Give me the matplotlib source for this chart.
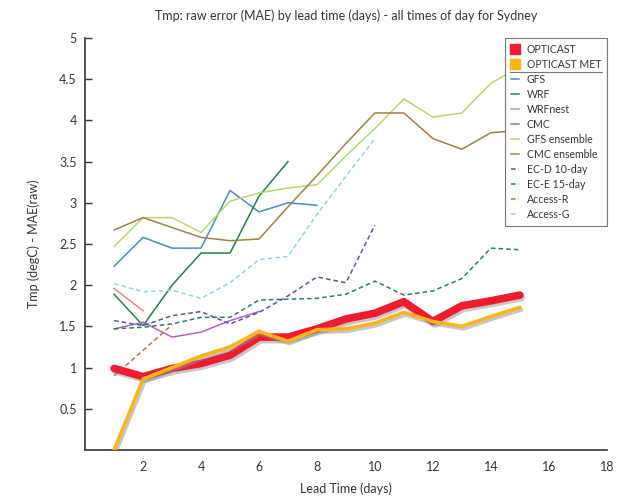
import matplotlib
matplotlib.use('Agg')
import matplotlib.pyplot as plt
import matplotlib.patheffects as pe
from matplotlib.lines import Line2D

plt.rcParams['font.family'] = ['Lato', 'DejaVu Sans']

# lead times (days) and MAE values
days = list(range(1, 16))
opticast = [0.99, 0.89, 0.99, 1.05, 1.15, 1.37, 1.37, 1.47, 1.59, 1.66, 1.80, 1.56, 1.75, 1.81, 1.88]
opticast_met = [0.0, 0.86, 1.0, 1.14, 1.25, 1.44, 1.32, 1.46, 1.47, 1.54, 1.67, 1.56, 1.50, 1.62, 1.73]
gfs = [2.23, 2.58, 2.45, 2.45, 3.15, 2.89, 3.0, 2.97]
wrf = [1.89, 1.51, 2.0, 2.39, 2.39, 3.08, 3.50]
wrfnest = [1.96, 1.69]
cmc = [1.47, 1.55, 1.37, 1.43, 1.57, 1.68]
gfs_ens = [2.47, 2.82, 2.82, 2.64, 3.02, 3.12, 3.18, 3.22, 3.57, 3.9, 4.26, 4.04, 4.09, 4.45, 4.65]
cmc_ens = [2.67, 2.82, 2.70, 2.58, 2.54, 2.56, 2.95, 3.33, 3.72, 4.09, 4.09, 3.78, 3.65, 3.85, 3.88]
ec_d = [1.57, 1.51, 1.63, 1.68, 1.53, 1.67, 1.87, 2.10, 2.03, 2.73]
ec_e = [1.47, 1.49, 1.53, 1.61, 1.61, 1.82, 1.83, 1.84, 1.89, 2.05, 1.88, 1.93, 2.08, 2.45, 2.43]
access_r = [0.90, 1.21, 1.52]
access_g = [2.02, 1.92, 1.94, 1.84, 2.03, 2.31, 2.35, 2.86, 3.32, 3.78]

# thin model lines: (name, values, colour, dashed?)
models = [
    ('GFS', gfs, '#4a8ac6', False),
    ('WRF', wrf, '#2b7a4b', False),
    ('WRFnest', wrfnest, '#e88c8c', False),
    ('CMC', cmc, '#b263c0', False),
    ('GFS ensemble', gfs_ens, '#b8d66c', False),
    ('CMC ensemble', cmc_ens, '#9b8148', False),
    ('EC-D 10-day', ec_d, '#5454a6', True),
    ('EC-E 15-day', ec_e, '#2e7d55', True),
    ('Access-R', access_r, '#e2623c', True),
    ('Access-G', access_g, '#92d6d9', True),
]

fig = plt.figure(figsize=(6.4, 5.0), dpi=100)
ax = fig.add_axes([0.133, 0.10, 0.815, 0.824])

handles = []
for name, vals, col, dashed in models:
    ls = (0, (3, 2)) if dashed else '-'
    ax.plot(days[:len(vals)], vals, color=col, lw=1.1, ls=ls, zorder=2)
    handles.append(Line2D([], [], color=col, lw=1.1, ls=ls, label=name))

shadow = [pe.SimpleLineShadow(offset=(1.2, -1.8), shadow_color='#909090', alpha=0.5), pe.Normal()]
ax.plot(days, opticast, color='#ee1c2e', lw=5.5, solid_capstyle='round',
        solid_joinstyle='round', zorder=3, path_effects=shadow)
ax.plot(days, opticast_met, color='#fbb41a', lw=2.6, solid_capstyle='round',
        solid_joinstyle='round', zorder=4, path_effects=shadow)

ax.set_xlim(0, 18)
ax.set_ylim(0, 5)
ax.set_xticks(range(2, 19, 2))
ax.set_yticks([0.5, 1, 1.5, 2, 2.5, 3, 3.5, 4, 4.5, 5])
ax.set_yticklabels(['0.5', '1', '1.5', '2', '2.5', '3', '3.5', '4', '4.5', '5'])
ax.set_xticks([18], minor=True)
ax.tick_params(axis='x', which='major', length=0, pad=8, labelsize=9, colors='#333333')
ax.tick_params(axis='x', which='minor', direction='in', length=5, width=1, color='#333333')
ax.tick_params(axis='y', direction='in', length=5, width=1, pad=6, labelsize=9,
               colors='#333333')
for s in ['top', 'right']:
    ax.spines[s].set_visible(False)
for s in ['left', 'bottom']:
    ax.spines[s].set_color('#333333')
    ax.spines[s].set_linewidth(1.2)

ax.set_xlabel('Lead Time (days)', fontsize=9, color='#333333', labelpad=7)
ax.set_ylabel('Tmp (degC) - MAE(raw)', fontsize=9, color='#333333', labelpad=14)
ax.set_title('Tmp: raw error (MAE) by lead time (days) - all times of day for Sydney',
             fontsize=9, color='#333333', pad=13)

top = [Line2D([], [], ls='none', marker='s', markersize=7, color='#ee1c2e', label='OPTICAST'),
       Line2D([], [], ls='none', marker='s', markersize=7, color='#fbb41a', label='OPTICAST MET')]
leg = ax.legend(handles=top + handles, loc='upper right', bbox_to_anchor=(1.0, 1.0),
                borderaxespad=0, fontsize=7.6, handlelength=0.8, handleheight=0.9,
                handletextpad=0.7, labelspacing=0.38, fancybox=False, framealpha=1,
                edgecolor='#777777', borderpad=0.55)
leg.get_frame().set_linewidth(0.8)
for t in leg.get_texts():
    t.set_color('#333333')

# separator line under the two OPTICAST entries
fig.canvas.draw()
inv = fig.transFigure.inverted()
texts = leg.get_texts()
b1 = texts[1].get_window_extent()
b2 = texts[2].get_window_extent()
fb = leg.get_frame().get_window_extent()
ymid = (b1.y0 + b2.y1) / 2
x0, y0 = inv.transform((fb.x0 + 5, ymid))
x1, _ = inv.transform((fb.x1 - 5, ymid))
fig.add_artist(Line2D([x0, x1], [y0, y0], color='#777777', lw=0.8))

fig.savefig('out.png', dpi=100)
